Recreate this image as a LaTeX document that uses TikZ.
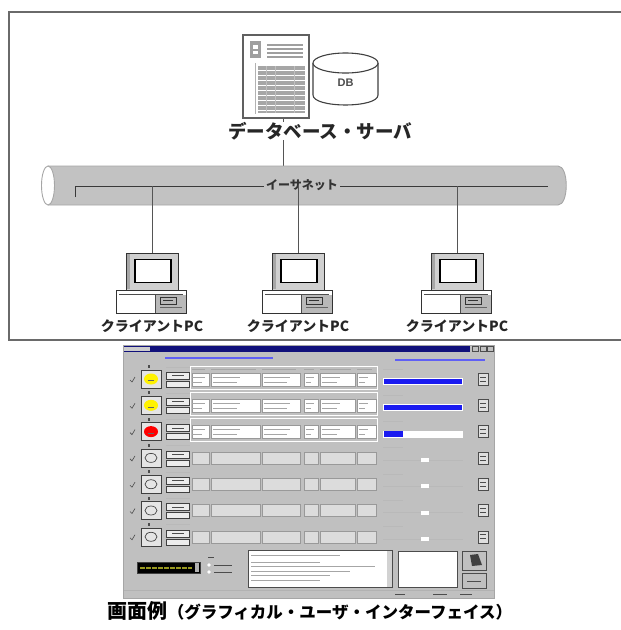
\documentclass[tikz,border=0pt]{standalone}
\usepackage{fontspec}
\newfontfamily\jp{Noto Sans CJK JP}
\setsansfont{Liberation Sans}
\definecolor{framegray}{HTML}{6A6A6A}
\definecolor{pipegray}{HTML}{C2C2C2}
\definecolor{wingray}{HTML}{C0C0C0}
\definecolor{lightfield}{HTML}{DCDCDC}
\definecolor{navybar}{HTML}{10107A}
\definecolor{monframe}{HTML}{D0D0D0}
\definecolor{guiblue}{HTML}{1A1AF0}
\definecolor{inkgray}{HTML}{555555}
\definecolor{lcdtext}{HTML}{9A9A20}
\tikzset{
  edge/.style={draw=inkgray, line width=0.8pt},
  jplabel/.style={font=\jp\bfseries\fontsize{#1}{#1}\selectfont, text=black!85, inner sep=1pt},
  field/.style={fill=#1, draw=gray!80},
  raised/.style={fill=wingray, draw=gray!60!black, line width=0.5pt},
  pics/clientpc/.style={code={
    % monitor with screen
    \node[draw=black!80, line width=0.9pt, fill=monframe, minimum width=52pt, minimum height=37pt, inner sep=0] (-mon) at (0,271.5) {};
    \fill[gray!70] (-25.5,254) rectangle (-22,289);
    \node[draw=black, line width=1.8pt, fill=white, minimum width=36pt, minimum height=23pt, inner sep=0] (-scr) at (1,271) {};
    % system unit
    \node[draw=black!80, line width=0.9pt, fill=white, minimum width=70pt, minimum height=23pt, inner sep=0] (-base) at (-1,301.5) {};
    \draw[black!70, line width=0.6pt] (-33,294) -- (31,294);
    \draw[black!70, line width=0.6pt] (3,294) -- (3,313);
    \fill[gray!55] (3.5,294.5) rectangle (33.5,312.5);
    \draw[black!80, line width=0.5pt] (8,297) rectangle (24,304);
    \draw[black!80, line width=0.5pt] (11,300) -- (21,300);
    \draw[black!60, line width=0.5pt] (8,307) -- (30,307);
  }}
}
\begin{document}
\begin{tikzpicture}[x=1pt,y=-1pt]
\useasboundingbox (0,0) rectangle (621,630);
\fill[white] (0,0) rectangle (621,630);

% outer frame of the system block
\draw[framegray, line width=1.8pt] (625,12) -- (9,12) -- (9,340) -- (625,340);

% ---------- database server ----------
\node[draw=gray!75!black, line width=1.4pt, fill=white, minimum width=66pt, minimum height=83pt, inner sep=0] (server) at (276,76.5) {};
\fill[gray!75] (250,41) rectangle (261,58);
\fill[white] (253,45) rectangle (258,49);
\fill[white] (253,51) rectangle (258,54);
\foreach \yy in {45,49,53,57} \draw[gray!75, line width=1.2pt] (267,\yy) -- (303,\yy);
\draw[gray!60, line width=0.8pt] (255,63) -- (255,114);
\fill[gray!70] (258,66) rectangle (305,113);
\foreach \yy in {70,75,80,85,90,95,100,105,110} \draw[white, line width=0.6pt] (258,\yy) -- (305,\yy);
\foreach \xx in {266,275,294} \draw[gray!50, line width=0.5pt] (\xx,66) -- (\xx,113);

% database cylinder
\node[minimum width=65pt, minimum height=52pt, inner sep=0] (db) at (345.5,79) {};
\filldraw[fill=white, draw=black!75, line width=1.1pt]
  (313,63) -- (313,95) .. controls (313,108.3) and (378,108.3) .. (378,95) -- (378,63);
\draw[fill=white, draw=black!75, line width=1.1pt] (345.5,63) ellipse [x radius=32.5, y radius=10];
\node[font=\sffamily\bfseries\fontsize{11}{11}\selectfont, text=black!70] (dbtext) at (345.5,83) {DB};

% server uplink to the ethernet trunk
\node[minimum width=525pt, minimum height=39pt, inner sep=0] (pipe) at (303.5,185.5) {};
\draw[edge] ([xshift=7pt]server.south) -- ([xshift=7pt]server.south |- pipe.north);

\node[jplabel=18.5, fill=white, inner sep=0pt] (srvlabel) at (320,131) {データベース・サーバ};

% ---------- ethernet trunk ----------
\filldraw[fill=pipegray, draw=gray!70, line width=0.9pt]
  (48,166) -- (558,166) .. controls (569,166) and (569,205) .. (558,205) -- (48,205);
\draw[fill=white, draw=gray!70, line width=0.9pt] (48,185.5) ellipse [x radius=6.5, y radius=19.5];

\coordinate (busL) at (75,186);
\coordinate (busR) at (548,186);
\draw[gray!45!black, line width=0.7pt] (75,197) -- (busL) -- (busR);
\node[jplabel=12, fill=pipegray, inner sep=2pt, text=black!80] (ethlabel) at (302,185) {イーサネット};

% ---------- client PCs ----------
\pic (pcA) at (152,0) {clientpc};
\pic (pcB) at (298,0) {clientpc};
\pic (pcC) at (457,0) {clientpc};

\foreach \p in {pcA,pcB,pcC}
  \draw[edge, line width=0.7pt] (\p-mon.north |- busL) -- (\p-mon.north);

\node[jplabel=14] (pcAlabel) at (152,326) {クライアントPC};
\node[jplabel=14] (pcBlabel) at (298,326) {クライアントPC};
\node[jplabel=14] (pcClabel) at (457,326) {クライアントPC};

% ---------- application window ----------
\node[fill=wingray, draw=gray!70, line width=0.6pt, minimum width=371pt, minimum height=253pt, inner sep=0] (gui) at (308.5,471.5) {};
\fill[navybar] (123.5,345.5) rectangle (470,351.5);
\fill[gray!40] (124,346.5) rectangle (150,350.5);
\foreach \xx in {472,480,487} \draw[raised] (\xx,346) rectangle (\xx+6,351);
% header captions
\draw[guiblue!70, line width=2pt] (165,358) -- (273,358);
\draw[guiblue!70, line width=2pt] (395,360) -- (485,360);

% device rows
\foreach \i in {0,...,6} {
  \pgfmathsetmacro{\yc}{379+26.3*\i}
  % check mark and status lamp button
  \draw[gray!60!black, line width=0.6pt] (130,\yc+1) -- (132,\yc+3) -- (135,\yc-2);
  \draw[fill=gray!20, draw=gray!50!black, line width=0.5pt] (141,\yc-9) rectangle (161,\yc+9);
  \fill[gray!60!black] (147.5,\yc-14) rectangle (149.5,\yc-11);
  % decode buttons and row caption
  \draw[gray!55, line width=1pt] (166,\yc-12) -- (190,\yc-12);
  \draw[fill=gray!15, draw=gray!50!black, line width=0.5pt] (166,\yc-7) rectangle (189,\yc);
  \draw[gray!60!black, line width=0.8pt] (172,\yc-3.5) -- (184,\yc-3.5);
  \draw[fill=gray!15, draw=gray!50!black, line width=0.5pt] (166,\yc+2) rectangle (189,\yc+8);
  % progress caption and right-hand icon
  \draw[gray!55, line width=1pt] (383,\yc-10) -- (403,\yc-10);
  \draw[fill=gray!25, draw=gray!60!black, line width=0.5pt] (478,\yc-6) rectangle (488,\yc+6);
  \draw[gray!60!black, line width=0.7pt] (480,\yc-2) -- (486,\yc-2) (480,\yc+2) -- (486,\yc+2);
}

% lamps: two busy, one error, four idle
\foreach \i/\lampcol in {0/yellow, 1/yellow, 2/red} {
  \pgfmathsetmacro{\yc}{379+26.3*\i}
  \fill[\lampcol] (151,\yc) ellipse [x radius=7, y radius=5.5];
  \draw[black!60, line width=0.4pt] (148,\yc+1.5) -- (154,\yc+1.5);
}
\foreach \i in {3,...,6} {
  \pgfmathsetmacro{\yc}{379+26.3*\i}
  \draw[gray!55!black, line width=0.7pt] (151,\yc) ellipse [x radius=6, y radius=4.5];
}

% data fields of the busy rows
\foreach \i in {0,1,2} {
  \pgfmathsetmacro{\yc}{379+26.3*\i}
  \draw[white, line width=0.6pt] (190,\yc-13) rectangle (377,\yc+10);
  \foreach \xa/\xb in {192/209, 211/260, 262/300, 304/318, 320/355, 357/376}
    \draw[field=white] (\xa,\yc-6) rectangle (\xb,\yc+7);
  \foreach \xa/\xb in {192/205, 213/240, 264/290, 306/314, 322/340, 359/368}
    \draw[gray!70, line width=0.9pt] (\xa,\yc-2) -- (\xb,\yc-2) (\xa,\yc+3) -- (\xb-3,\yc+3);
  \fill[white] (383,\yc-1) rectangle (463,\yc+6);
}
\fill[guiblue] (384,379-0.5) rectangle (462,379+5);
\fill[guiblue] (384,405.3-0.5) rectangle (462,405.3+5);
\fill[guiblue] (384,431.6-0.5) rectangle (403,431.6+5);
\foreach \xa/\xb in {192/209, 211/260, 262/300, 304/318, 320/355, 357/376}
  \draw[gray!70, line width=0.7pt] (\xa,369) -- (\xb-4,369);

% idle rows
\foreach \i in {3,...,6} {
  \pgfmathsetmacro{\yc}{379+26.3*\i}
  \foreach \xa/\xb in {192/209, 211/260, 262/300, 304/318, 320/355, 357/376}
    \draw[field=lightfield] (\xa,\yc-6) rectangle (\xb,\yc+6);
  \draw[gray!55] (383,\yc+2) -- (463,\yc+2);
  \fill[white] (421,\yc) rectangle (429,\yc+4);
}

% status display, mode switch, log and buttons
\node[fill=black, draw=gray!50!black, minimum width=63pt, minimum height=11pt, inner sep=0] (lcd) at (168.5,567.5) {};
\draw[lcdtext, line width=2pt, dash pattern=on 5pt off 1pt] (140,567.5) -- (192,567.5);
\fill[gray!60] (195,563) rectangle (199,572);
\draw[gray!60!black, line width=0.8pt] (208,557) -- (214,557);
\foreach \yy in {565,572} {
  \fill[white] (209,\yy) circle [radius=1.8];
  \draw[gray!60!black, line width=0.8pt] (214,\yy) -- (232,\yy);
}
\node[fill=white, draw=gray!60!black, line width=0.6pt, minimum width=144pt, minimum height=37pt, inner sep=0] (logbox) at (320,568.5) {};
\fill[gray!35] (387,550.5) rectangle (392,586.5);
\foreach \yy/\xe in {555/340, 562/320, 566/375, 571/350, 575/330, 580/320}
  \draw[gray!70, line width=0.8pt] (251,\yy) -- (\xe,\yy);
\node[fill=white, draw=gray!60!black, line width=0.6pt, minimum width=59pt, minimum height=36pt, inner sep=0] (notebox) at (427.5,569) {};
\draw[raised] (462,551) rectangle (486,570);
\fill[gray!50!black] (470,555) -- (478,554) -- (482,565) -- (472,566) -- cycle;
\draw[raised] (462,573) rectangle (486,588);
\draw[gray!60!black, line width=0.7pt] (467,581) -- (481,581);
% status bar
\draw[gray!60, line width=0.5pt] (123.5,590) -- (493.5,590);
\draw[gray!60!black, line width=0.6pt] (395,594) -- (405,594) (433,594) -- (447,594) (460,594) -- (472,594);

% ---------- caption ----------
\node[inner sep=0] (caption) at (310,611)
  {\jp\bfseries\fontsize{20}{20}\selectfont 画面例{\fontsize{16.5}{16.5}\selectfont （グラフィカル・ユーザ・インターフェイス）}};
\end{tikzpicture}
\end{document}
